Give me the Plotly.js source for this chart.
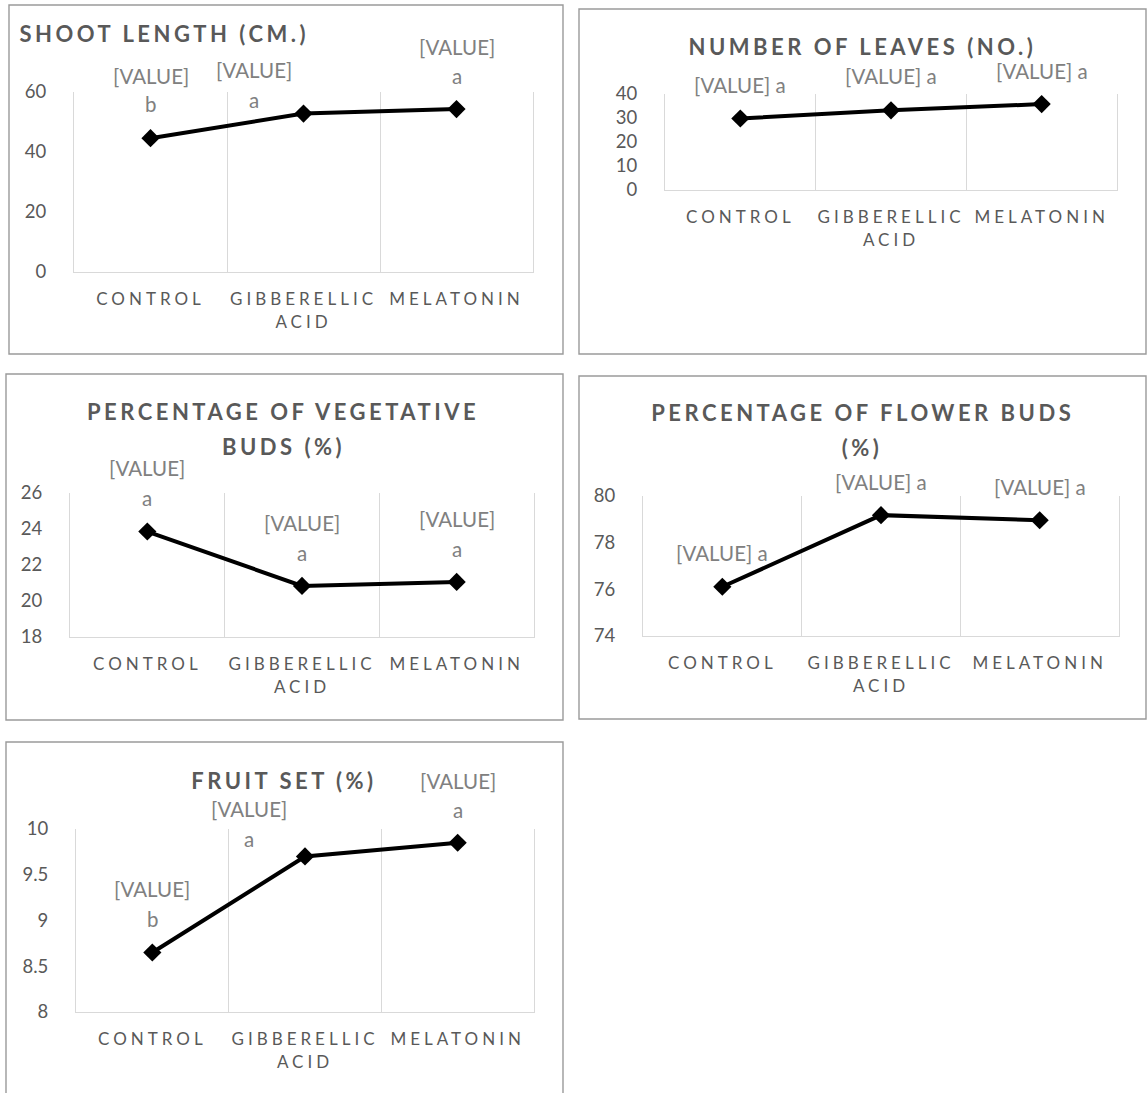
<!DOCTYPE html>
<html><head><meta charset="utf-8">
<script src="https://cdn.plot.ly/plotly-3.0.1.min.js"></script>
<style>
html,body{margin:0;padding:0;background:#fff}
.xtick text,.x2tick text,.x3tick text,.x4tick text,.x5tick text{letter-spacing:4px}
</style>
</head><body><div id="chart" style="width:1147px;height:1093px"></div>
<script>
// ---- data ----
const categories = ["CONTROL", "GIBBERELLIC<br>ACID", "MELATONIN"];
const shootLength = [44.6, 52.8, 54.3];
const shootLetters = ["b", "a", "a"];
const leavesNumber = [29.8, 33.2, 35.8];
const leavesLetters = ["a", "a", "a"];
const vegetativeBuds = [23.86, 20.84, 21.06];
const vegetativeLetters = ["a", "a", "a"];
const flowerBuds = [76.11, 79.18, 78.96];
const flowerLetters = ["a", "a", "a"];
const fruitSet = [8.65, 9.70, 9.85];
const fruitLetters = ["b", "a", "a"];
const valueLabel = "[VALUE]";
const titleShoot = ["SHOOT LENGTH (CM.)"];
const titleLeaves = ["NUMBER OF LEAVES (NO.)"];
const titleVeg = ["PERCENTAGE OF VEGETATIVE", "BUDS (%)"];
const titleFlower = ["PERCENTAGE OF FLOWER BUDS", "(%)"];
const titleFruit = ["FRUIT SET (%)"];

// ---- layout / style ----
const W = 1147, H = 1093;
const fx = p => p / W, fy = p => 1 - p / H;
const FONT = "Lato, 'Open Sans', sans-serif";

const panels = [
  {vals: shootLength, letters: shootLetters, title: titleShoot, range: [0, 60], dtick: 20,
   plot: [74, 533, 92, 272], box: [9, 563, 5, 354], titlePos: [[164, 33]],
   stacked: true, offs: [[0, -62, -34], [-50, -44, -14], [0, -62, -33]]},
  {vals: leavesNumber, letters: leavesLetters, title: titleLeaves, range: [0, 40], dtick: 10,
   plot: [665, 1117, 94, 190], box: [579, 1146, 9, 354], titlePos: [[862, 47]],
   stacked: false, offs: [[0, -33], [0, -34], [0, -33]]},
  {vals: vegetativeBuds, letters: vegetativeLetters, title: titleVeg, range: [18, 26], dtick: 2,
   plot: [70, 534, 493, 637], box: [6, 563, 374, 720], titlePos: [[283, 412], [283, 446]],
   stacked: true, offs: [[0, -64, -34], [0, -63, -33], [0, -63, -33]]},
  {vals: flowerBuds, letters: flowerLetters, title: titleFlower, range: [74, 80], dtick: 2,
   plot: [643, 1119, 496, 636], box: [579, 1146, 376, 719], titlePos: [[863, 413], [862, 447]],
   stacked: false, offs: [[0, -34], [0, -33], [0, -33]]},
  {vals: fruitSet, letters: fruitLetters, title: titleFruit, range: [8, 10], dtick: 0.5,
   plot: [76, 534, 829, 1012], box: [6, 563, 742, 1110], titlePos: [[284, 780]],
   stacked: true, offs: [[0, -64, -34], [-56, -47, -17], [0, -62, -33]]}
];

const traces = [];
const layout = {
  width: W, height: H, margin: {l: 0, r: 0, t: 0, b: 0},
  paper_bgcolor: "#fff", plot_bgcolor: "rgba(0,0,0,0)",
  showlegend: false, annotations: [], shapes: [],
  font: {family: FONT, color: "#595959"}
};
const titleIdx = [];

panels.forEach((p, i) => {
  const n = i + 1, xa = "x" + (n === 1 ? "" : n), ya = "y" + (n === 1 ? "" : n);
  traces.push({
    x: categories, y: p.vals, xaxis: xa, yaxis: ya, type: "scatter", mode: "lines+markers",
    line: {color: "#000", width: 4}, marker: {symbol: "diamond", size: 14, color: "#000"},
    cliponaxis: false, hoverinfo: "skip"
  });
  layout["xaxis" + (n === 1 ? "" : n)] = {
    domain: [fx(p.plot[0]), fx(p.plot[1])], anchor: ya, type: "category",
    range: [-0.5, 2.5], tickson: "boundaries", showgrid: true, gridcolor: "#d9d9d9", gridwidth: 1,
    showline: true, linecolor: "#d9d9d9", linewidth: 1, ticks: "", zeroline: false,
    tickangle: 0, ticklabelstandoff: 12,
    tickfont: {family: FONT, size: 17, color: "#595959"}, fixedrange: true
  };
  layout["yaxis" + (n === 1 ? "" : n)] = {
    domain: [fy(p.plot[3]), fy(p.plot[2])], anchor: xa, range: p.range, dtick: p.dtick,
    showgrid: false, zeroline: false, showline: true, mirror: true, linecolor: "#d9d9d9", linewidth: 1,
    ticks: "", ticklabelstandoff: 23,
    tickfont: {family: FONT, size: 18.5, color: "#595959"}, fixedrange: true
  };
  layout.shapes.push({type: "rect", xref: "paper", yref: "paper",
    x0: fx(p.box[0]), x1: fx(p.box[1]), y0: fy(p.box[3]), y1: fy(p.box[2]),
    line: {color: "#9a9a9a", width: 1.4}, fillcolor: "rgba(0,0,0,0)", layer: "below"});
  p.title.forEach((t, k) => {
    titleIdx.push(layout.annotations.length);
    layout.annotations.push({text: t, xref: "paper", yref: "paper",
      x: fx(p.titlePos[k][0]), y: fy(p.titlePos[k][1]), xanchor: "center", yanchor: "middle",
      showarrow: false, font: {family: FONT, size: 22, color: "#595959", weight: 700}});
  });
  p.vals.forEach((v, j) => {
    const o = p.offs[j];
    const base = {xref: xa, yref: ya, x: categories[j], y: v, showarrow: false,
      xanchor: "center", yanchor: "middle", xshift: o[0],
      font: {family: FONT, size: 20.5, color: "#808080"}};
    if (p.stacked) {
      layout.annotations.push(Object.assign({}, base, {text: valueLabel, yshift: -o[1]}));
      layout.annotations.push(Object.assign({}, base, {text: p.letters[j], yshift: -o[2]}));
    } else {
      layout.annotations.push(Object.assign({}, base, {text: valueLabel + " " + p.letters[j], yshift: -o[1]}));
    }
  });
});

Plotly.newPlot("chart", traces, layout, {staticPlot: true, displayModeBar: false}).then(() => {
  document.querySelectorAll("g.annotation").forEach(g => {
    const idx = +g.getAttribute("data-index");
    if (titleIdx.includes(idx)) {
      const t = g.querySelector("text");
      if (t) t.style.letterSpacing = "3.5px";
    }
  });
});
</script>
</body></html>
